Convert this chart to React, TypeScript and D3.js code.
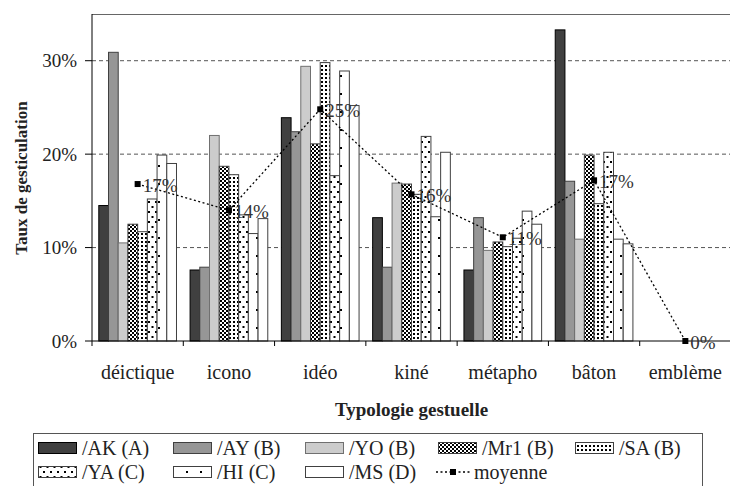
import React from 'react';
import * as d3 from 'd3';

const categories = ['déictique', 'icono', 'idéo', 'kiné', 'métapho', 'bâton', 'emblème'];
const seriesNames = ['/AK (A)', '/AY (B)', '/YO (B)', '/Mr1 (B)', '/SA (B)', '/YA (C)', '/HI (C)', '/MS (D)'];
const AK = [14.5, 7.6, 23.9, 13.2, 7.6, 33.3, 0];
const AY = [30.9, 7.9, 22.4, 7.9, 13.2, 17.1, 0];
const YO = [10.5, 22.0, 29.4, 16.9, 9.7, 10.9, 0];
const Mr1 = [12.5, 18.7, 21.1, 16.8, 10.6, 19.9, 0];
const SA = [11.7, 17.8, 29.8, 15.7, 10.1, 14.7, 0];
const YA = [15.2, 13.5, 17.7, 21.9, 11.0, 20.2, 0];
const HI = [19.9, 11.5, 28.9, 13.3, 13.9, 10.9, 0];
const MS = [19.0, 13.1, 25.2, 20.2, 12.5, 10.4, 0];
const moyenne = [16.8, 14.0, 24.8, 15.7, 11.1, 17.2, 0];
const yTicks = [0, 0.1, 0.2, 0.3];

const seriesValues = [AK, AY, YO, Mr1, SA, YA, HI, MS];
const fills = ['#404040', '#969696', '#cccccc', 'url(#pMr1)', 'url(#pSA)', 'url(#pYA)', 'url(#pHI)', '#ffffff'];
const strokes = ['#000', '#404040', '#707070', '#404040', '#404040', '#404040', '#404040', '#404040'];

const FONT = '"Liberation Serif", serif';

export default function App() {
  const W = 730, H = 486;
  const left = 92, right = 731, top = 14, bottom = 341;

  const x = d3.scaleBand<string>().domain(categories).range([left, right]).padding(0);
  const xs = d3.scaleBand<number>().domain(d3.range(8)).range([0, x.bandwidth()]).paddingInner(0).paddingOuter(0.7);
  const y = d3.scaleLinear().domain([0, 0.35]).range([bottom, top]);
  const pct = d3.format('.0%');

  const line = d3.line<number>()
    .x((_, i) => x(categories[i])! + x.bandwidth() / 2)
    .y(d => y(d / 100));

  // legend layout
  const legendRows = [[0, 1, 2, 3, 4], [5, 6, 7, -1]];
  const colX = [38, 173, 305, 438, 575];
  const rowY = [448, 472];

  return (
    <svg width={W} height={H} style={{ position: 'absolute', left: 0, top: 0 }} fontFamily={FONT}>
      <defs>
        <pattern id="pMr1" width={4} height={4} patternUnits="userSpaceOnUse">
          <rect width={4} height={4} fill="#fff" />
          <rect width={2} height={2} fill="#000" />
          <rect x={2} y={2} width={2} height={2} fill="#000" />
        </pattern>
        <pattern id="pSA" width={4} height={4} patternUnits="userSpaceOnUse">
          <rect width={4} height={4} fill="#fff" />
          <rect x={1} y={1} width={2} height={2} fill="#000" />
        </pattern>
        <pattern id="pYA" width={7} height={10} patternUnits="userSpaceOnUse">
          <rect width={7} height={10} fill="#fff" />
          <rect x={1} y={1} width={2} height={2} fill="#000" />
          <rect x={4.5} y={6} width={2} height={2} fill="#000" />
        </pattern>
        <pattern id="pHI" width={14} height={18} patternUnits="userSpaceOnUse">
          <rect width={14} height={18} fill="#fff" />
          <rect x={4} y={3} width={2} height={2} fill="#000" />
        </pattern>
      </defs>
      <rect width={W} height={H} fill="#fff" />

      {/* grid */}
      {yTicks.slice(1).map(t => (
        <line key={t} x1={left} x2={right} y1={y(t)} y2={y(t)} stroke="#555" strokeDasharray="4,3" />
      ))}
      <line x1={left} x2={right} y1={top + 0.5} y2={top + 0.5} stroke="#666" />

      {/* bars */}
      {seriesValues.map((vals, s) => (
        <g key={s}>
          {vals.map((v, i) => v > 0 && (
            <rect key={i}
              x={x(categories[i])! + xs(s)!}
              y={y(v / 100)}
              width={xs.bandwidth()}
              height={bottom - y(v / 100)}
              fill={fills[s]} stroke={strokes[s]} strokeWidth={1} />
          ))}
        </g>
      ))}

      {/* axes */}
      <line x1={left} x2={left} y1={top} y2={bottom} stroke="#000" />
      <line x1={left} x2={right} y1={bottom} y2={bottom} stroke="#000" />
      {yTicks.map(t => (
        <g key={t}>
          <line x1={left - 7} x2={left} y1={y(t)} y2={y(t)} stroke="#000" />
          <text x={left - 15} y={y(t)} textAnchor="end" dominantBaseline="central" fontSize={19} fill="#222">{pct(t)}</text>
        </g>
      ))}
      {d3.range(categories.length + 1).map(i => (
        <line key={i} x1={left + i * x.step()} x2={left + i * x.step()} y1={bottom} y2={bottom + 5} stroke="#000" />
      ))}
      {categories.map(c => (
        <text key={c} x={x(c)! + x.bandwidth() / 2} y={372} textAnchor="middle" dominantBaseline="central" fontSize={20} fill="#222">{c}</text>
      ))}
      <text x={(left + right) / 2} y={409} textAnchor="middle" dominantBaseline="central" fontSize={19} fontWeight="bold" fill="#222">Typologie gestuelle</text>
      <text transform={`translate(21,178) rotate(-90)`} textAnchor="middle" dominantBaseline="central" fontSize={17} fontWeight="bold" fill="#222">Taux de gesticulation</text>

      {/* moyenne */}
      <path d={line(moyenne)!} fill="none" stroke="#000" strokeWidth={1.3} strokeDasharray="2,2.5" />
      {moyenne.map((v, i) => {
        const cx = x(categories[i])! + x.bandwidth() / 2;
        const cy = y(v / 100);
        return (
          <g key={i}>
            <rect x={cx - 3} y={cy - 3} width={6} height={6} fill="#000" />
            <text x={cx + 5} y={cy + 1} dominantBaseline="central" fontSize={19} fill="#333">{pct(Math.round(v) / 100)}</text>
          </g>
        );
      })}

      {/* legend */}
      <rect x={33.5} y={433.5} width={669} height={70} fill="#fff" stroke="#555" />
      {legendRows.map((row, r) => row.map((s, c) => {
        const lx = colX[c];
        const ly = rowY[r];
        if (s < 0) {
          return (
            <g key={`${r}-${c}`}>
              <line x1={lx - 2} x2={lx + 32} y1={ly} y2={ly} stroke="#000" strokeWidth={1.3} strokeDasharray="2,2.5" />
              <rect x={lx + 12} y={ly - 3} width={6} height={6} fill="#000" />
              <text x={lx + 36} y={ly} dominantBaseline="central" fontSize={20} fill="#222">moyenne</text>
            </g>
          );
        }
        return (
          <g key={`${r}-${c}`}>
            <rect x={lx + 0.5} y={ly - 5.5} width={38} height={11} fill={fills[s]} stroke={strokes[s]} />
            <text x={lx + 44} y={ly} dominantBaseline="central" fontSize={20} fill="#222">{seriesNames[s]}</text>
          </g>
        );
      }))}
    </svg>
  );
}
